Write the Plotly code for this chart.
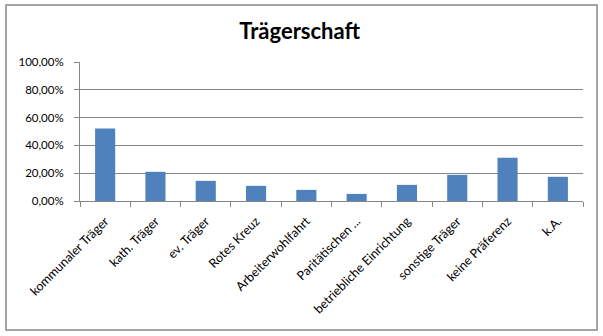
import plotly.graph_objects as go

# Trägerschaft – Anteil je Trägerart
categories = [
    "kommunaler Träger",
    "kath. Träger",
    "ev. Träger",
    "Rotes Kreuz",
    "Arbeiterwohlfahrt",
    "Paritätischen ...",
    "betriebliche Einrichtung",
    "sonstige Träger",
    "keine Präferenz",
    "k.A.",
]
shares = [0.522, 0.210, 0.145, 0.109, 0.080, 0.051, 0.116, 0.188, 0.312, 0.174]
y_ticks = [0.0, 0.2, 0.4, 0.6, 0.8, 1.0]

W, H = 603, 336
L, R, T, B = 80, 20, 62, 135
GRID = "#868686"
BAR = "#4F81BD"
FONT = "Lato"

fig = go.Figure(
    go.Bar(
        x=categories,
        y=shares,
        marker=dict(color=BAR, line=dict(width=0)),
    )
)

# frame around the whole chart, given in pixels and converted to paper units
pw, ph = W - L - R, H - T - B
fx0, fx1, fy0, fy1 = 6, 597, 5, 330
fig.add_shape(
    type="rect",
    xref="paper", yref="paper",
    x0=(fx0 - L) / pw, x1=(fx1 - L) / pw,
    y0=(H - B - fy1) / ph, y1=(H - B - fy0) / ph,
    line=dict(color="#888888", width=1.5),
    fillcolor="rgba(0,0,0,0)",
    layer="below",
)

fig.update_layout(
    width=W,
    height=H,
    margin=dict(l=L, r=R, t=T, b=B),
    paper_bgcolor="white",
    plot_bgcolor="white",
    separators=",.",
    bargap=0.6,
    showlegend=False,
    title=dict(
        text="<b>Trägerschaft</b>",
        x=0.497, xref="container",
        y=1 - 31 / H, yref="container", yanchor="middle",
        xanchor="center",
        font=dict(family=FONT, size=22, color="#000000"),
    ),
    font=dict(family=FONT, size=11, color="#000000"),
)

fig.update_xaxes(
    type="category",
    tickangle=-45,
    showline=True,
    linecolor=GRID,
    linewidth=1,
    ticks="outside",
    tickson="boundaries",
    ticklen=5,
    tickcolor=GRID,
    showgrid=False,
    ticklabelstandoff=7,
    tickfont=dict(family=FONT, size=12.5, color="#000000"),
)

fig.update_yaxes(
    range=[0, 1],
    tickvals=y_ticks,
    tickformat=".2%",
    showline=True,
    linecolor=GRID,
    linewidth=1,
    ticks="outside",
    ticklen=5,
    tickcolor=GRID,
    showgrid=True,
    gridcolor=GRID,
    gridwidth=1,
    zeroline=False,
    ticklabelstandoff=8,
    tickfont=dict(family=FONT, size=11.5, color="#000000"),
)

fig.write_html("out.html")
